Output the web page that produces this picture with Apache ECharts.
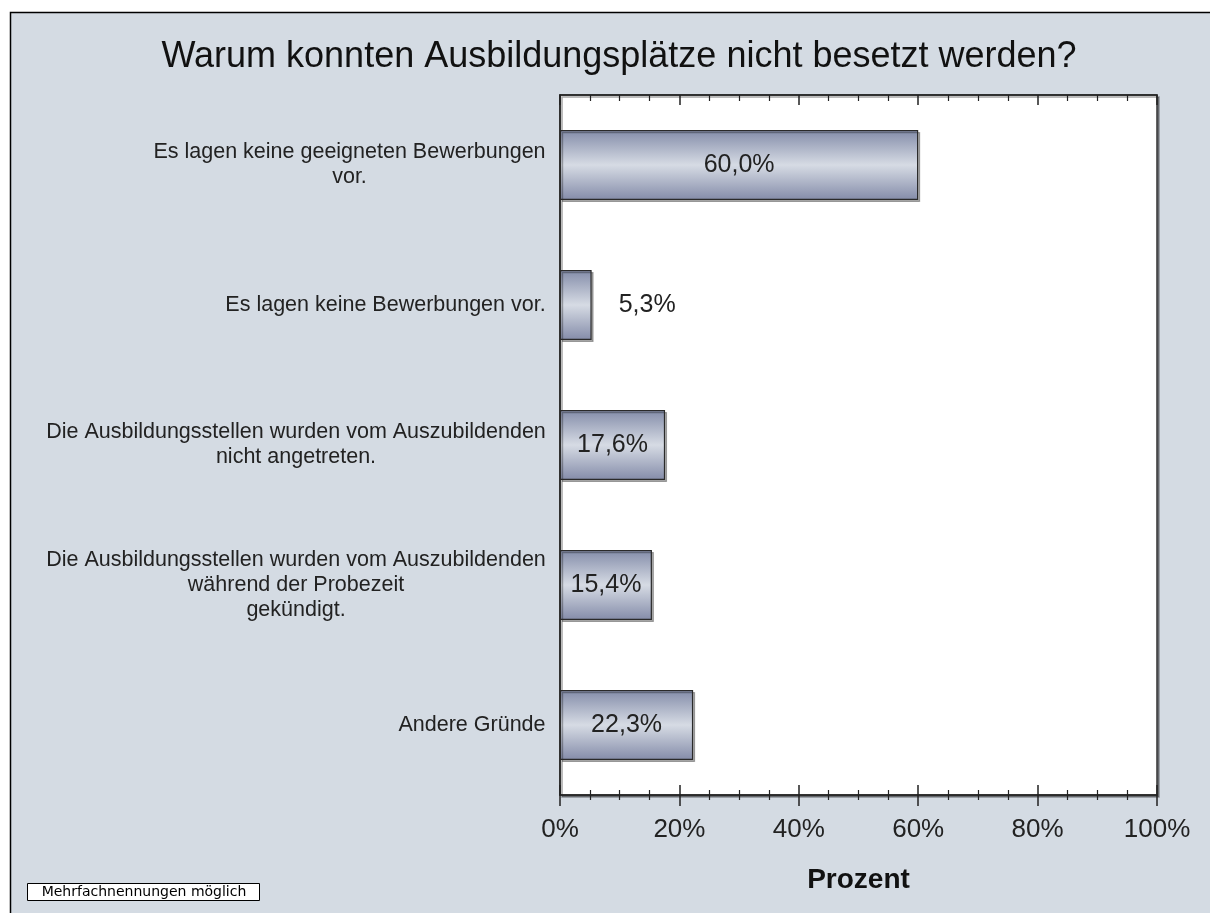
<!DOCTYPE html>
<html>
<head>
<meta charset="utf-8">
<script src="https://cdn.jsdelivr.net/npm/echarts@6/dist/echarts.min.js"></script>
<style>
  html, body { margin: 0; padding: 0; background: #fff; }
  #chart { width: 1210px; height: 913px; }
</style>
</head>
<body>
<div id="chart"></div>
<script>
var titleText = 'Warum konnten Ausbildungsplätze nicht besetzt werden?';
var categories = [
    'Es lagen keine geeigneten Bewerbungen\nvor.',
    'Es lagen keine Bewerbungen vor.',
    'Die Ausbildungsstellen wurden vom Auszubildenden\nnicht angetreten.',
    'Die Ausbildungsstellen wurden vom Auszubildenden\nwährend der Probezeit\ngekündigt.',
    'Andere Gründe'
];
var values = [60.0, 5.3, 17.6, 15.4, 22.3];
var axisName = 'Prozent';
var note = 'Mehrfachnennungen möglich';

var font = '"Liberation Sans", Arial, sans-serif';
var labelSize = 21.5;

// width of widest line per category, so lines can be centred in a right-aligned block
var ctx = document.createElement('canvas').getContext('2d');
ctx.font = labelSize + 'px ' + font;
var rich = {};
categories.forEach(function (c, i) {
    var w = 0;
    c.split('\n').forEach(function (l) {
        w = Math.max(w, ctx.measureText(l).width);
    });
    rich['c' + i] = { width: Math.ceil(w) + 2, align: 'center', fontSize: labelSize, lineHeight: 25, fontFamily: font, color: '#222' };
});

var myChart = echarts.init(document.getElementById('chart'));

var barData = values.map(function (v) {
    var item = { value: v };
    if (v < 10) {
        item.label = { position: 'right', distance: 27 };
    }
    return item;
});

var option = {
    backgroundColor: '#fff',
    animation: false,
    title: {
        text: titleText,
        left: 614,
        top: 34,
        textAlign: 'center',
        textStyle: { fontFamily: font, fontSize: 36, fontWeight: 'normal', color: '#111' }
    },
    graphic: [
        {
            type: 'rect', z: -100, silent: true,
            shape: { x: 10.5, y: 12.5, width: 1220, height: 920 },
            style: { fill: '#d4dbe3', stroke: '#000', lineWidth: 1.5 }
        },
        {
            type: 'rect', z: 10, silent: true,
            shape: { x: 27.5, y: 883.5, width: 232, height: 17 },
            style: { fill: '#fff', stroke: '#000', lineWidth: 1 }
        },
        {
            type: 'text', z: 11, silent: true,
            x: 144, y: 892,
            style: { text: note, font: '14px "DejaVu Sans", sans-serif', fill: '#000', align: 'center', verticalAlign: 'middle' }
        }
    ],
    grid: {
        left: 560, top: 95, width: 597, height: 700,
        show: true, backgroundColor: '#fff',
        borderColor: '#333', borderWidth: 1.5,
        shadowColor: 'rgba(0,0,0,0.35)', shadowOffsetX: 2, shadowOffsetY: 2
    },
    xAxis: [
        {
            type: 'value', position: 'bottom', min: 0, max: 100, interval: 20,
            axisLine: { show: true, lineStyle: { color: '#222', width: 1.5 } },
            axisTick: { show: true, inside: false, length: 11, lineStyle: { color: '#222', width: 1.5 } },
            minorTick: { show: true, splitNumber: 4, length: 5, lineStyle: { color: '#222', width: 1.2 } },
            splitLine: { show: false },
            axisLabel: {
                margin: 22, fontSize: 26, fontFamily: font, color: '#222',
                formatter: '{value}%'
            },
            name: axisName, nameLocation: 'middle', nameGap: 71,
            nameTextStyle: { fontSize: 28, fontWeight: 'bold', fontFamily: font, color: '#111' }
        },
        {
            type: 'value', position: 'bottom', min: 0, max: 100, interval: 20,
            axisLine: { show: false },
            axisTick: { show: true, inside: true, length: 10, lineStyle: { color: '#222', width: 1.5 } },
            minorTick: { show: true, splitNumber: 4, length: 5, lineStyle: { color: '#222', width: 1.2 } },
            splitLine: { show: false },
            axisLabel: { show: false }
        },
        {
            type: 'value', position: 'top', min: 0, max: 100, interval: 20,
            axisLine: { show: true, lineStyle: { color: '#222', width: 1.5 } },
            axisTick: { show: true, inside: true, length: 10, lineStyle: { color: '#222', width: 1.5 } },
            minorTick: { show: true, splitNumber: 4, length: 6, lineStyle: { color: '#222', width: 1.2 } },
            splitLine: { show: false },
            axisLabel: { show: false }
        }
    ],
    yAxis: {
        type: 'category',
        inverse: true,
        data: categories,
        axisLine: { show: true, lineStyle: { color: '#222', width: 1.5 } },
        axisTick: { show: false },
        axisLabel: {
            margin: 13,
            align: 'right',
            formatter: function (value, idx) {
                return value.split('\n').map(function (l) {
                    return '{c' + idx + '|' + l + '}';
                }).join('\n');
            },
            rich: rich
        }
    },
    series: [
        {
            type: 'bar',
            xAxisIndex: 0,
            data: barData,
            barWidth: 70,
            itemStyle: {
                color: new echarts.graphic.LinearGradient(0, 0, 0, 1, [
                    { offset: 0, color: '#838ca9' },
                    { offset: 0.5, color: '#d6dbe4' },
                    { offset: 1, color: '#848ca9' }
                ]),
                borderColor: '#2a2a2a',
                borderWidth: 1.2,
                shadowColor: 'rgba(0,0,0,0.3)',
                shadowOffsetX: 2,
                shadowOffsetY: 2
            },
            label: {
                show: true,
                position: 'inside',
                fontSize: 25,
                fontFamily: font,
                color: '#222',
                formatter: function (p) {
                    return p.value.toFixed(1).replace('.', ',') + '%';
                }
            }
        }
    ]
};

myChart.setOption(option);

window.onresize = function () {
    myChart.resize();
};
</script>
</body>
</html>
